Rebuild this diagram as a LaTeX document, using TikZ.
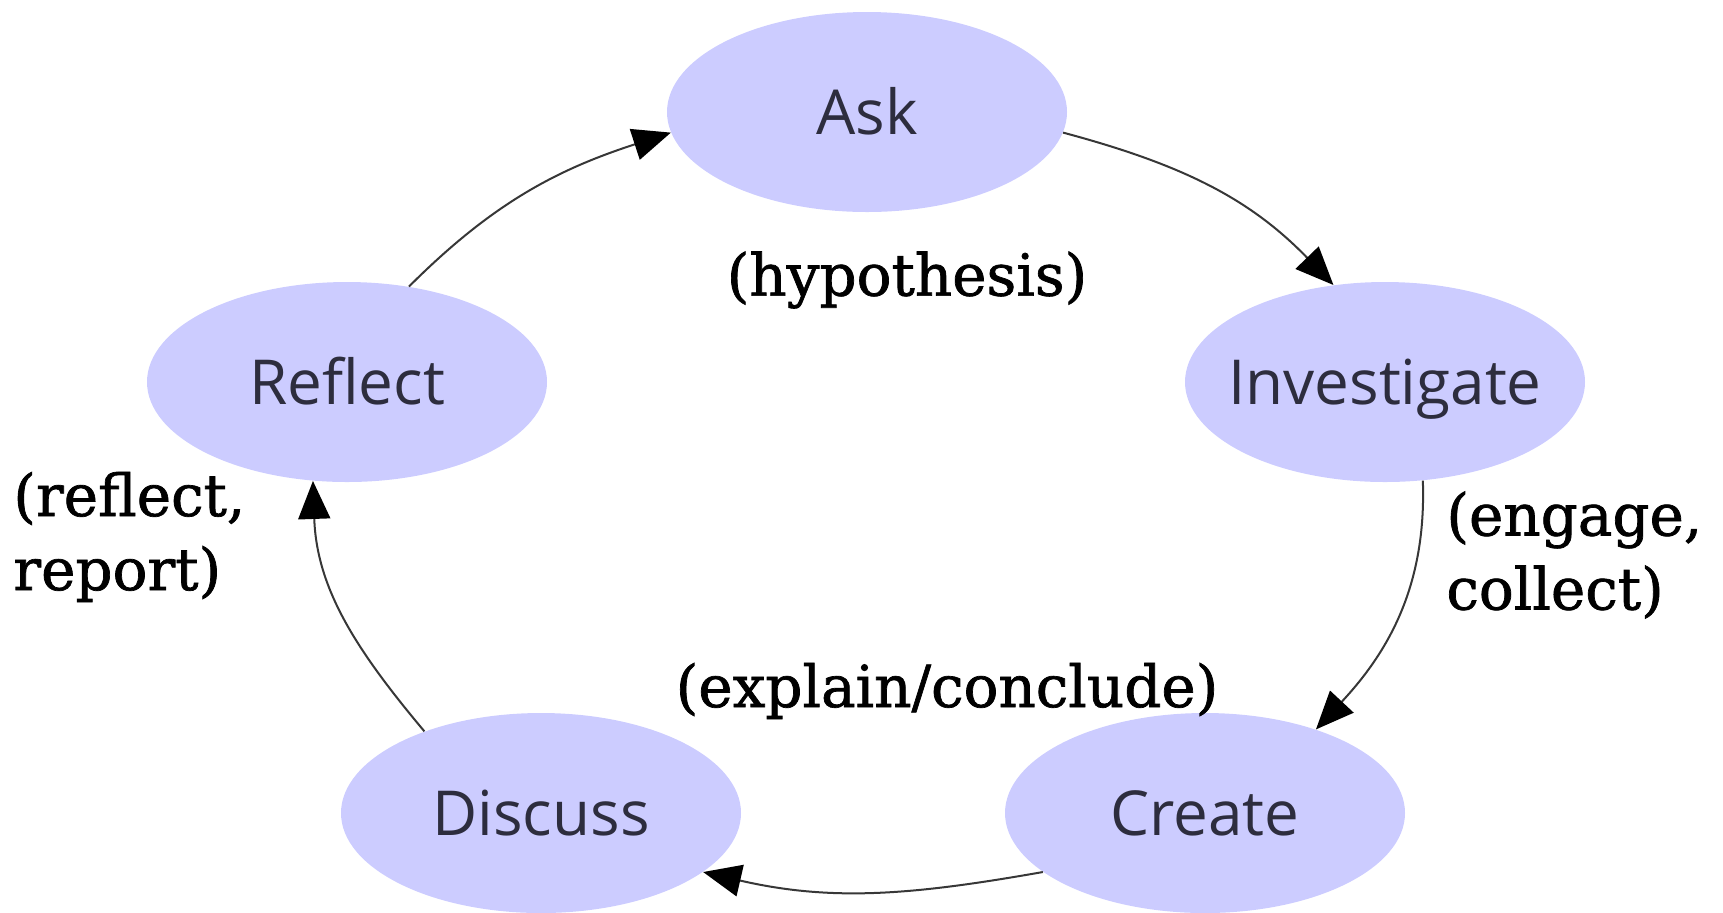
\documentclass[tikz,border=0pt]{standalone}
\usepackage{fontspec}
\usetikzlibrary{shapes.geometric,arrows.meta}
\newfontfamily\stagefont{Open Sans}
\newfontfamily\notefont{DejaVu Serif}[FakeBold=1.2]
\definecolor{stagefill}{RGB}{204,204,255}
\definecolor{stagetext}{RGB}{45,45,62}
\definecolor{flowline}{RGB}{55,55,55}
\begin{document}
\begin{tikzpicture}[x=0.5pt,y=-0.5pt,
  stage/.style={ellipse, fill=stagefill, minimum width=200pt, minimum height=100pt,
    inner sep=0pt, text=stagetext, font=\stagefont\fontsize{31}{31}\selectfont,
    text height=28pt, text depth=6pt},
  note/.style={font=\notefont\fontsize{29}{37}\selectfont, align=left, inner sep=0pt},
  flow/.style={draw=flowline, line width=1pt,
    -{Triangle[length=19pt,width=16pt,color=black]}}]
\useasboundingbox (0,0) rectangle (1723,912);

% the five stages of the cycle
\node[stage] (ask)  at (867,112)  {\makebox[0pt]{Ask}};
\node[stage] (inv)  at (1385,382) {\makebox[0pt]{Investigate}};
\node[stage] (cre)  at (1205,813) {\makebox[0pt]{Create}};
\node[stage] (dis)  at (541,813)  {\makebox[0pt]{Discuss}};
\node[stage] (ref)  at (347,382)  {\makebox[0pt]{Reflect}};

% notes beside the stages
\node[note] (hyp) at (907,280) {(hypothesis)};
\node[note, anchor=west] (rr) at (13,537) {(reflect,\\report)};
\node[note, anchor=west] (ec) at (1446,555) {(engage,\\collect)};
\node[note] (exc) at (947,691) {(explain/conclude)};

% clockwise flow between stages
\draw[flow] (ask.-6)   to[out=-15, in=134] (inv.118);
\draw[flow] (inv.-69)  to[out=-88, in=47]  (cre.37);
\draw[flow] (cre.200)  to[out=190, in=-13] (dis.-20);
\draw[flow] (dis.145)  to[out=130, in=-88] (ref.-109);
\draw[flow] (ref.57)   to[out=45, in=198]  (ask.186);
\end{tikzpicture}
\end{document}
